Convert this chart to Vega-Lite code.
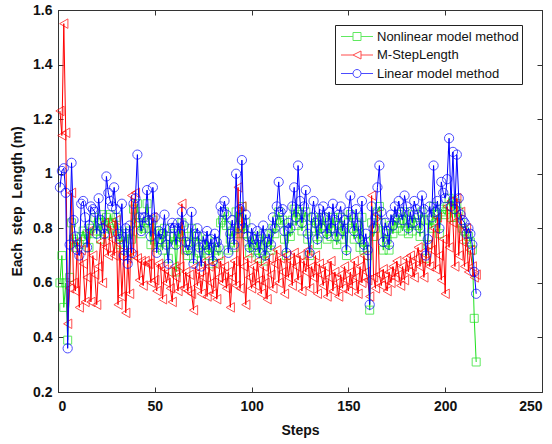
{
"$schema":"https://vega.github.io/schema/vega-lite/v6.json",
"width":484,"height":382,
"autosize":"none",
"padding":{"left":58,"top":10,"right":10,"bottom":52},
"background":"white",
"config":{
 "view":{"stroke":"#333","strokeWidth":1},
 "axis":{"grid":false,"domainColor":"#333","tickColor":"#333","tickSize":-5,"labelFont":"Liberation Sans","labelFontWeight":"bold","labelFontSize":14,"labelColor":"#111","titleFont":"Liberation Sans","titleFontWeight":"bold","titleFontSize":14,"titleColor":"#111"}
},
"data":{"values":[
{"x":1,"s":"N","y":0.60},{"x":2,"s":"N","y":0.70},{"x":3,"s":"N","y":0.51},{"x":4,"s":"N","y":0.60},{"x":5,"s":"N","y":0.39},{"x":6,"s":"N","y":0.62},{"x":7,"s":"N","y":0.82},{"x":8,"s":"N","y":0.76},{"x":9,"s":"N","y":0.73},{"x":10,"s":"N","y":0.75},
{"x":11,"s":"N","y":0.74},{"x":12,"s":"N","y":0.77},{"x":13,"s":"N","y":0.79},{"x":14,"s":"N","y":0.76},{"x":15,"s":"N","y":0.78},{"x":16,"s":"N","y":0.73},{"x":17,"s":"N","y":0.80},{"x":18,"s":"N","y":0.78},{"x":19,"s":"N","y":0.84},{"x":20,"s":"N","y":0.79},
{"x":21,"s":"N","y":0.82},{"x":22,"s":"N","y":0.76},{"x":23,"s":"N","y":0.85},{"x":24,"s":"N","y":0.80},{"x":25,"s":"N","y":0.84},{"x":26,"s":"N","y":0.78},{"x":27,"s":"N","y":0.85},{"x":28,"s":"N","y":0.82},{"x":29,"s":"N","y":0.80},{"x":30,"s":"N","y":0.84},
{"x":31,"s":"N","y":0.79},{"x":32,"s":"N","y":0.74},{"x":33,"s":"N","y":0.77},{"x":34,"s":"N","y":0.72},{"x":35,"s":"N","y":0.78},{"x":36,"s":"N","y":0.70},{"x":37,"s":"N","y":0.79},{"x":38,"s":"N","y":0.76},{"x":39,"s":"N","y":0.87},{"x":40,"s":"N","y":0.82},
{"x":41,"s":"N","y":0.89},{"x":42,"s":"N","y":0.82},{"x":43,"s":"N","y":0.78},{"x":44,"s":"N","y":0.80},{"x":45,"s":"N","y":0.82},{"x":46,"s":"N","y":0.89},{"x":47,"s":"N","y":0.80},{"x":48,"s":"N","y":0.74},{"x":49,"s":"N","y":0.83},{"x":50,"s":"N","y":0.79},
{"x":51,"s":"N","y":0.73},{"x":52,"s":"N","y":0.75},{"x":53,"s":"N","y":0.78},{"x":54,"s":"N","y":0.72},{"x":55,"s":"N","y":0.80},{"x":56,"s":"N","y":0.76},{"x":57,"s":"N","y":0.69},{"x":58,"s":"N","y":0.77},{"x":59,"s":"N","y":0.74},{"x":60,"s":"N","y":0.78},
{"x":61,"s":"N","y":0.64},{"x":62,"s":"N","y":0.79},{"x":63,"s":"N","y":0.75},{"x":64,"s":"N","y":0.82},{"x":65,"s":"N","y":0.77},{"x":66,"s":"N","y":0.72},{"x":67,"s":"N","y":0.70},{"x":68,"s":"N","y":0.75},{"x":69,"s":"N","y":0.80},{"x":70,"s":"N","y":0.69},
{"x":71,"s":"N","y":0.75},{"x":72,"s":"N","y":0.77},{"x":73,"s":"N","y":0.71},{"x":74,"s":"N","y":0.68},{"x":75,"s":"N","y":0.74},{"x":76,"s":"N","y":0.72},{"x":77,"s":"N","y":0.76},{"x":78,"s":"N","y":0.70},{"x":79,"s":"N","y":0.73},{"x":80,"s":"N","y":0.67},
{"x":81,"s":"N","y":0.75},{"x":82,"s":"N","y":0.72},{"x":83,"s":"N","y":0.70},{"x":84,"s":"N","y":0.82},{"x":85,"s":"N","y":0.83},{"x":86,"s":"N","y":0.86},{"x":87,"s":"N","y":0.81},{"x":88,"s":"N","y":0.72},{"x":89,"s":"N","y":0.76},{"x":90,"s":"N","y":0.79},
{"x":91,"s":"N","y":0.73},{"x":92,"s":"N","y":0.86},{"x":93,"s":"N","y":0.78},{"x":94,"s":"N","y":0.84},{"x":95,"s":"N","y":0.88},{"x":96,"s":"N","y":0.78},{"x":97,"s":"N","y":0.82},{"x":98,"s":"N","y":0.75},{"x":99,"s":"N","y":0.71},{"x":100,"s":"N","y":0.77},
{"x":101,"s":"N","y":0.73},{"x":102,"s":"N","y":0.72},{"x":103,"s":"N","y":0.76},{"x":104,"s":"N","y":0.69},{"x":105,"s":"N","y":0.74},{"x":106,"s":"N","y":0.78},{"x":107,"s":"N","y":0.68},{"x":108,"s":"N","y":0.73},{"x":109,"s":"N","y":0.76},{"x":110,"s":"N","y":0.72},
{"x":111,"s":"N","y":0.80},{"x":112,"s":"N","y":0.78},{"x":113,"s":"N","y":0.83},{"x":114,"s":"N","y":0.86},{"x":115,"s":"N","y":0.82},{"x":116,"s":"N","y":0.83},{"x":117,"s":"N","y":0.76},{"x":118,"s":"N","y":0.70},{"x":119,"s":"N","y":0.79},{"x":120,"s":"N","y":0.77},
{"x":121,"s":"N","y":0.83},{"x":122,"s":"N","y":0.87},{"x":123,"s":"N","y":0.81},{"x":124,"s":"N","y":0.86},{"x":125,"s":"N","y":0.85},{"x":126,"s":"N","y":0.79},{"x":127,"s":"N","y":0.84},{"x":128,"s":"N","y":0.86},{"x":129,"s":"N","y":0.76},{"x":130,"s":"N","y":0.70},
{"x":131,"s":"N","y":0.80},{"x":132,"s":"N","y":0.84},{"x":133,"s":"N","y":0.79},{"x":134,"s":"N","y":0.74},{"x":135,"s":"N","y":0.83},{"x":136,"s":"N","y":0.78},{"x":137,"s":"N","y":0.84},{"x":138,"s":"N","y":0.80},{"x":139,"s":"N","y":0.76},{"x":140,"s":"N","y":0.82},
{"x":141,"s":"N","y":0.77},{"x":142,"s":"N","y":0.84},{"x":143,"s":"N","y":0.79},{"x":144,"s":"N","y":0.74},{"x":145,"s":"N","y":0.81},{"x":146,"s":"N","y":0.84},{"x":147,"s":"N","y":0.76},{"x":148,"s":"N","y":0.80},{"x":149,"s":"N","y":0.70},{"x":150,"s":"N","y":0.82},
{"x":151,"s":"N","y":0.85},{"x":152,"s":"N","y":0.80},{"x":153,"s":"N","y":0.76},{"x":154,"s":"N","y":0.82},{"x":155,"s":"N","y":0.78},{"x":156,"s":"N","y":0.73},{"x":157,"s":"N","y":0.84},{"x":158,"s":"N","y":0.72},{"x":159,"s":"N","y":0.75},{"x":160,"s":"N","y":0.70},
{"x":161,"s":"N","y":0.50},{"x":162,"s":"N","y":0.82},{"x":163,"s":"N","y":0.77},{"x":164,"s":"N","y":0.80},{"x":165,"s":"N","y":0.86},{"x":166,"s":"N","y":0.88},{"x":167,"s":"N","y":0.82},{"x":168,"s":"N","y":0.72},{"x":169,"s":"N","y":0.78},{"x":170,"s":"N","y":0.76},
{"x":171,"s":"N","y":0.72},{"x":172,"s":"N","y":0.81},{"x":173,"s":"N","y":0.78},{"x":174,"s":"N","y":0.83},{"x":175,"s":"N","y":0.80},{"x":176,"s":"N","y":0.85},{"x":177,"s":"N","y":0.82},{"x":178,"s":"N","y":0.79},{"x":179,"s":"N","y":0.86},{"x":180,"s":"N","y":0.83},
{"x":181,"s":"N","y":0.78},{"x":182,"s":"N","y":0.82},{"x":183,"s":"N","y":0.79},{"x":184,"s":"N","y":0.85},{"x":185,"s":"N","y":0.82},{"x":186,"s":"N","y":0.81},{"x":187,"s":"N","y":0.77},{"x":188,"s":"N","y":0.86},{"x":189,"s":"N","y":0.83},{"x":190,"s":"N","y":0.69},
{"x":191,"s":"N","y":0.74},{"x":192,"s":"N","y":0.83},{"x":193,"s":"N","y":0.80},{"x":194,"s":"N","y":0.88},{"x":195,"s":"N","y":0.82},{"x":196,"s":"N","y":0.85},{"x":197,"s":"N","y":0.78},{"x":198,"s":"N","y":0.87},{"x":199,"s":"N","y":0.86},{"x":200,"s":"N","y":0.85},
{"x":201,"s":"N","y":0.88},{"x":202,"s":"N","y":0.91},{"x":203,"s":"N","y":0.84},{"x":204,"s":"N","y":0.90},{"x":205,"s":"N","y":0.84},{"x":206,"s":"N","y":0.89},{"x":207,"s":"N","y":0.86},{"x":208,"s":"N","y":0.82},{"x":209,"s":"N","y":0.80},{"x":210,"s":"N","y":0.79},
{"x":211,"s":"N","y":0.76},{"x":212,"s":"N","y":0.77},{"x":213,"s":"N","y":0.75},{"x":214,"s":"N","y":0.72},{"x":215,"s":"N","y":0.47},{"x":216,"s":"N","y":0.31},
{"x":1,"s":"M","y":1.23},{"x":2,"s":"M","y":1.14},{"x":3,"s":"M","y":1.55},{"x":4,"s":"M","y":1.15},{"x":5,"s":"M","y":0.45},{"x":6,"s":"M","y":0.58},{"x":7,"s":"M","y":0.93},{"x":8,"s":"M","y":0.60},{"x":9,"s":"M","y":0.57},{"x":10,"s":"M","y":0.75},
{"x":11,"s":"M","y":0.51},{"x":12,"s":"M","y":0.72},{"x":13,"s":"M","y":0.67},{"x":14,"s":"M","y":0.53},{"x":15,"s":"M","y":0.62},{"x":16,"s":"M","y":0.79},{"x":17,"s":"M","y":0.53},{"x":18,"s":"M","y":0.70},{"x":19,"s":"M","y":0.63},{"x":20,"s":"M","y":0.52},
{"x":21,"s":"M","y":0.66},{"x":22,"s":"M","y":0.75},{"x":23,"s":"M","y":0.60},{"x":24,"s":"M","y":0.82},{"x":25,"s":"M","y":0.73},{"x":26,"s":"M","y":0.70},{"x":27,"s":"M","y":0.81},{"x":28,"s":"M","y":0.76},{"x":29,"s":"M","y":0.70},{"x":30,"s":"M","y":0.83},
{"x":31,"s":"M","y":0.52},{"x":32,"s":"M","y":0.74},{"x":33,"s":"M","y":0.55},{"x":34,"s":"M","y":0.71},{"x":35,"s":"M","y":0.49},{"x":36,"s":"M","y":0.69},{"x":37,"s":"M","y":0.56},{"x":38,"s":"M","y":0.92},{"x":39,"s":"M","y":0.70},{"x":40,"s":"M","y":0.93},
{"x":41,"s":"M","y":0.69},{"x":42,"s":"M","y":0.61},{"x":43,"s":"M","y":0.68},{"x":44,"s":"M","y":0.59},{"x":45,"s":"M","y":0.68},{"x":46,"s":"M","y":0.67},{"x":47,"s":"M","y":0.67},{"x":48,"s":"M","y":0.60},{"x":49,"s":"M","y":0.84},{"x":50,"s":"M","y":0.61},
{"x":51,"s":"M","y":0.57},{"x":52,"s":"M","y":0.67},{"x":53,"s":"M","y":0.66},{"x":54,"s":"M","y":0.54},{"x":55,"s":"M","y":0.65},{"x":56,"s":"M","y":0.60},{"x":57,"s":"M","y":0.64},{"x":58,"s":"M","y":0.58},{"x":59,"s":"M","y":0.53},{"x":60,"s":"M","y":0.66},
{"x":61,"s":"M","y":0.62},{"x":62,"s":"M","y":0.57},{"x":63,"s":"M","y":0.66},{"x":64,"s":"M","y":0.89},{"x":65,"s":"M","y":0.58},{"x":66,"s":"M","y":0.64},{"x":67,"s":"M","y":0.57},{"x":68,"s":"M","y":0.63},{"x":69,"s":"M","y":0.56},{"x":70,"s":"M","y":0.50},
{"x":71,"s":"M","y":0.66},{"x":72,"s":"M","y":0.59},{"x":73,"s":"M","y":0.64},{"x":74,"s":"M","y":0.56},{"x":75,"s":"M","y":0.62},{"x":76,"s":"M","y":0.68},{"x":77,"s":"M","y":0.55},{"x":78,"s":"M","y":0.66},{"x":79,"s":"M","y":0.60},{"x":80,"s":"M","y":0.56},
{"x":81,"s":"M","y":0.67},{"x":82,"s":"M","y":0.54},{"x":83,"s":"M","y":0.62},{"x":84,"s":"M","y":0.68},{"x":85,"s":"M","y":0.60},{"x":86,"s":"M","y":0.66},{"x":87,"s":"M","y":0.58},{"x":88,"s":"M","y":0.64},{"x":89,"s":"M","y":0.51},{"x":90,"s":"M","y":0.62},
{"x":91,"s":"M","y":0.68},{"x":92,"s":"M","y":0.59},{"x":93,"s":"M","y":0.95},{"x":94,"s":"M","y":0.58},{"x":95,"s":"M","y":0.88},{"x":96,"s":"M","y":0.66},{"x":97,"s":"M","y":0.52},{"x":98,"s":"M","y":0.69},{"x":99,"s":"M","y":0.62},{"x":100,"s":"M","y":0.58},
{"x":101,"s":"M","y":0.66},{"x":102,"s":"M","y":0.59},{"x":103,"s":"M","y":0.68},{"x":104,"s":"M","y":0.61},{"x":105,"s":"M","y":0.56},{"x":106,"s":"M","y":0.66},{"x":107,"s":"M","y":0.60},{"x":108,"s":"M","y":0.54},{"x":109,"s":"M","y":0.69},{"x":110,"s":"M","y":0.63},
{"x":111,"s":"M","y":0.58},{"x":112,"s":"M","y":0.67},{"x":113,"s":"M","y":0.72},{"x":114,"s":"M","y":0.60},{"x":115,"s":"M","y":0.69},{"x":116,"s":"M","y":0.64},{"x":117,"s":"M","y":0.56},{"x":118,"s":"M","y":0.70},{"x":119,"s":"M","y":0.62},{"x":120,"s":"M","y":0.68},
{"x":121,"s":"M","y":0.59},{"x":122,"s":"M","y":0.71},{"x":123,"s":"M","y":0.66},{"x":124,"s":"M","y":0.61},{"x":125,"s":"M","y":0.70},{"x":126,"s":"M","y":0.57},{"x":127,"s":"M","y":0.68},{"x":128,"s":"M","y":0.64},{"x":129,"s":"M","y":0.72},{"x":130,"s":"M","y":0.58},
{"x":131,"s":"M","y":0.66},{"x":132,"s":"M","y":0.62},{"x":133,"s":"M","y":0.70},{"x":134,"s":"M","y":0.56},{"x":135,"s":"M","y":0.67},{"x":136,"s":"M","y":0.63},{"x":137,"s":"M","y":0.59},{"x":138,"s":"M","y":0.66},{"x":139,"s":"M","y":0.55},{"x":140,"s":"M","y":0.62},
{"x":141,"s":"M","y":0.68},{"x":142,"s":"M","y":0.57},{"x":143,"s":"M","y":0.64},{"x":144,"s":"M","y":0.60},{"x":145,"s":"M","y":0.55},{"x":146,"s":"M","y":0.63},{"x":147,"s":"M","y":0.58},{"x":148,"s":"M","y":0.66},{"x":149,"s":"M","y":0.61},{"x":150,"s":"M","y":0.57},
{"x":151,"s":"M","y":0.64},{"x":152,"s":"M","y":0.59},{"x":153,"s":"M","y":0.68},{"x":154,"s":"M","y":0.62},{"x":155,"s":"M","y":0.56},{"x":156,"s":"M","y":0.66},{"x":157,"s":"M","y":0.60},{"x":158,"s":"M","y":0.70},{"x":159,"s":"M","y":0.64},{"x":160,"s":"M","y":0.61},
{"x":161,"s":"M","y":0.55},{"x":162,"s":"M","y":0.92},{"x":163,"s":"M","y":0.62},{"x":164,"s":"M","y":0.58},{"x":165,"s":"M","y":0.85},{"x":166,"s":"M","y":0.63},{"x":167,"s":"M","y":0.59},{"x":168,"s":"M","y":0.65},{"x":169,"s":"M","y":0.61},{"x":170,"s":"M","y":0.57},
{"x":171,"s":"M","y":0.64},{"x":172,"s":"M","y":0.60},{"x":173,"s":"M","y":0.66},{"x":174,"s":"M","y":0.62},{"x":175,"s":"M","y":0.68},{"x":176,"s":"M","y":0.63},{"x":177,"s":"M","y":0.59},{"x":178,"s":"M","y":0.66},{"x":179,"s":"M","y":0.61},{"x":180,"s":"M","y":0.69},
{"x":181,"s":"M","y":0.64},{"x":182,"s":"M","y":0.70},{"x":183,"s":"M","y":0.66},{"x":184,"s":"M","y":0.62},{"x":185,"s":"M","y":0.69},{"x":186,"s":"M","y":0.73},{"x":187,"s":"M","y":0.66},{"x":188,"s":"M","y":0.71},{"x":189,"s":"M","y":0.62},{"x":190,"s":"M","y":0.68},
{"x":191,"s":"M","y":0.74},{"x":192,"s":"M","y":0.66},{"x":193,"s":"M","y":0.72},{"x":194,"s":"M","y":0.80},{"x":195,"s":"M","y":0.65},{"x":196,"s":"M","y":0.84},{"x":197,"s":"M","y":0.70},{"x":198,"s":"M","y":0.61},{"x":199,"s":"M","y":0.76},{"x":200,"s":"M","y":0.56},
{"x":201,"s":"M","y":0.88},{"x":202,"s":"M","y":0.73},{"x":203,"s":"M","y":0.90},{"x":204,"s":"M","y":0.82},{"x":205,"s":"M","y":0.66},{"x":206,"s":"M","y":0.91},{"x":207,"s":"M","y":0.70},{"x":208,"s":"M","y":0.86},{"x":209,"s":"M","y":0.75},{"x":210,"s":"M","y":0.66},
{"x":211,"s":"M","y":0.80},{"x":212,"s":"M","y":0.64},{"x":213,"s":"M","y":0.72},{"x":214,"s":"M","y":0.66},{"x":215,"s":"M","y":0.62},{"x":216,"s":"M","y":0.63},
{"x":1,"s":"L","y":0.95},{"x":2,"s":"L","y":1.01},{"x":3,"s":"L","y":1.02},{"x":4,"s":"L","y":0.93},{"x":5,"s":"L","y":0.36},{"x":6,"s":"L","y":0.74},{"x":7,"s":"L","y":1.04},{"x":8,"s":"L","y":0.83},{"x":9,"s":"L","y":0.77},{"x":10,"s":"L","y":0.72},
{"x":11,"s":"L","y":0.70},{"x":12,"s":"L","y":0.89},{"x":13,"s":"L","y":0.90},{"x":14,"s":"L","y":0.84},{"x":15,"s":"L","y":0.73},{"x":16,"s":"L","y":0.81},{"x":17,"s":"L","y":0.88},{"x":18,"s":"L","y":0.87},{"x":19,"s":"L","y":0.86},{"x":20,"s":"L","y":0.78},
{"x":21,"s":"L","y":0.91},{"x":22,"s":"L","y":0.83},{"x":23,"s":"L","y":0.80},{"x":24,"s":"L","y":0.78},{"x":25,"s":"L","y":0.99},{"x":26,"s":"L","y":0.93},{"x":27,"s":"L","y":0.90},{"x":28,"s":"L","y":0.88},{"x":29,"s":"L","y":0.95},{"x":30,"s":"L","y":0.87},
{"x":31,"s":"L","y":0.78},{"x":32,"s":"L","y":0.76},{"x":33,"s":"L","y":0.89},{"x":34,"s":"L","y":0.70},{"x":35,"s":"L","y":0.80},{"x":36,"s":"L","y":0.67},{"x":37,"s":"L","y":0.81},{"x":38,"s":"L","y":0.71},{"x":39,"s":"L","y":0.89},{"x":40,"s":"L","y":0.91},
{"x":41,"s":"L","y":1.07},{"x":42,"s":"L","y":0.84},{"x":43,"s":"L","y":0.79},{"x":44,"s":"L","y":0.84},{"x":45,"s":"L","y":0.84},{"x":46,"s":"L","y":0.94},{"x":47,"s":"L","y":0.83},{"x":48,"s":"L","y":0.77},{"x":49,"s":"L","y":0.95},{"x":50,"s":"L","y":0.84},
{"x":51,"s":"L","y":0.71},{"x":52,"s":"L","y":0.79},{"x":53,"s":"L","y":0.76},{"x":54,"s":"L","y":0.78},{"x":55,"s":"L","y":0.85},{"x":56,"s":"L","y":0.74},{"x":57,"s":"L","y":0.67},{"x":58,"s":"L","y":0.80},{"x":59,"s":"L","y":0.82},{"x":60,"s":"L","y":0.80},
{"x":61,"s":"L","y":0.74},{"x":62,"s":"L","y":0.82},{"x":63,"s":"L","y":0.78},{"x":64,"s":"L","y":0.86},{"x":65,"s":"L","y":0.81},{"x":66,"s":"L","y":0.75},{"x":67,"s":"L","y":0.72},{"x":68,"s":"L","y":0.74},{"x":69,"s":"L","y":0.86},{"x":70,"s":"L","y":0.67},
{"x":71,"s":"L","y":0.78},{"x":72,"s":"L","y":0.80},{"x":73,"s":"L","y":0.73},{"x":74,"s":"L","y":0.66},{"x":75,"s":"L","y":0.77},{"x":76,"s":"L","y":0.74},{"x":77,"s":"L","y":0.79},{"x":78,"s":"L","y":0.72},{"x":79,"s":"L","y":0.76},{"x":80,"s":"L","y":0.68},
{"x":81,"s":"L","y":0.78},{"x":82,"s":"L","y":0.75},{"x":83,"s":"L","y":0.73},{"x":84,"s":"L","y":0.88},{"x":85,"s":"L","y":0.86},{"x":86,"s":"L","y":0.90},{"x":87,"s":"L","y":0.85},{"x":88,"s":"L","y":0.71},{"x":89,"s":"L","y":0.78},{"x":90,"s":"L","y":0.83},
{"x":91,"s":"L","y":0.74},{"x":92,"s":"L","y":1.00},{"x":93,"s":"L","y":0.80},{"x":94,"s":"L","y":0.87},{"x":95,"s":"L","y":1.05},{"x":96,"s":"L","y":0.80},{"x":97,"s":"L","y":0.85},{"x":98,"s":"L","y":0.77},{"x":99,"s":"L","y":0.73},{"x":100,"s":"L","y":0.80},
{"x":101,"s":"L","y":0.76},{"x":102,"s":"L","y":0.74},{"x":103,"s":"L","y":0.79},{"x":104,"s":"L","y":0.71},{"x":105,"s":"L","y":0.77},{"x":106,"s":"L","y":0.81},{"x":107,"s":"L","y":0.70},{"x":108,"s":"L","y":0.75},{"x":109,"s":"L","y":0.78},{"x":110,"s":"L","y":0.74},
{"x":111,"s":"L","y":0.84},{"x":112,"s":"L","y":0.80},{"x":113,"s":"L","y":0.88},{"x":114,"s":"L","y":0.97},{"x":115,"s":"L","y":0.86},{"x":116,"s":"L","y":0.87},{"x":117,"s":"L","y":0.79},{"x":118,"s":"L","y":0.71},{"x":119,"s":"L","y":0.82},{"x":120,"s":"L","y":0.80},
{"x":121,"s":"L","y":0.88},{"x":122,"s":"L","y":0.95},{"x":123,"s":"L","y":0.84},{"x":124,"s":"L","y":1.03},{"x":125,"s":"L","y":0.90},{"x":126,"s":"L","y":0.82},{"x":127,"s":"L","y":0.88},{"x":128,"s":"L","y":0.94},{"x":129,"s":"L","y":0.78},{"x":130,"s":"L","y":0.71},
{"x":131,"s":"L","y":0.84},{"x":132,"s":"L","y":0.90},{"x":133,"s":"L","y":0.82},{"x":134,"s":"L","y":0.76},{"x":135,"s":"L","y":0.87},{"x":136,"s":"L","y":0.80},{"x":137,"s":"L","y":0.88},{"x":138,"s":"L","y":0.84},{"x":139,"s":"L","y":0.78},{"x":140,"s":"L","y":0.86},
{"x":141,"s":"L","y":0.80},{"x":142,"s":"L","y":0.89},{"x":143,"s":"L","y":0.83},{"x":144,"s":"L","y":0.77},{"x":145,"s":"L","y":0.85},{"x":146,"s":"L","y":0.88},{"x":147,"s":"L","y":0.79},{"x":148,"s":"L","y":0.83},{"x":149,"s":"L","y":0.72},{"x":150,"s":"L","y":0.86},
{"x":151,"s":"L","y":0.92},{"x":152,"s":"L","y":0.84},{"x":153,"s":"L","y":0.79},{"x":154,"s":"L","y":0.87},{"x":155,"s":"L","y":0.81},{"x":156,"s":"L","y":0.76},{"x":157,"s":"L","y":0.90},{"x":158,"s":"L","y":0.74},{"x":159,"s":"L","y":0.78},{"x":160,"s":"L","y":0.72},
{"x":161,"s":"L","y":0.52},{"x":162,"s":"L","y":0.88},{"x":163,"s":"L","y":0.80},{"x":164,"s":"L","y":0.84},{"x":165,"s":"L","y":0.95},{"x":166,"s":"L","y":1.03},{"x":167,"s":"L","y":0.86},{"x":168,"s":"L","y":0.75},{"x":169,"s":"L","y":0.82},{"x":170,"s":"L","y":0.79},
{"x":171,"s":"L","y":0.74},{"x":172,"s":"L","y":0.85},{"x":173,"s":"L","y":0.81},{"x":174,"s":"L","y":0.88},{"x":175,"s":"L","y":0.84},{"x":176,"s":"L","y":0.90},{"x":177,"s":"L","y":0.86},{"x":178,"s":"L","y":0.83},{"x":179,"s":"L","y":0.92},{"x":180,"s":"L","y":0.88},
{"x":181,"s":"L","y":0.80},{"x":182,"s":"L","y":0.86},{"x":183,"s":"L","y":0.82},{"x":184,"s":"L","y":0.90},{"x":185,"s":"L","y":0.87},{"x":186,"s":"L","y":0.85},{"x":187,"s":"L","y":0.80},{"x":188,"s":"L","y":0.92},{"x":189,"s":"L","y":0.87},{"x":190,"s":"L","y":0.70},
{"x":191,"s":"L","y":0.76},{"x":192,"s":"L","y":0.88},{"x":193,"s":"L","y":0.84},{"x":194,"s":"L","y":1.03},{"x":195,"s":"L","y":0.86},{"x":196,"s":"L","y":0.90},{"x":197,"s":"L","y":0.80},{"x":198,"s":"L","y":0.97},{"x":199,"s":"L","y":0.93},{"x":200,"s":"L","y":0.91},
{"x":201,"s":"L","y":0.98},{"x":202,"s":"L","y":1.13},{"x":203,"s":"L","y":0.88},{"x":204,"s":"L","y":1.08},{"x":205,"s":"L","y":0.87},{"x":206,"s":"L","y":1.07},{"x":207,"s":"L","y":0.91},{"x":208,"s":"L","y":0.85},{"x":209,"s":"L","y":0.83},{"x":210,"s":"L","y":0.82},
{"x":211,"s":"L","y":0.78},{"x":212,"s":"L","y":0.80},{"x":213,"s":"L","y":0.78},{"x":214,"s":"L","y":0.74},{"x":215,"s":"L","y":0.64},{"x":216,"s":"L","y":0.56}
]},
"layer":[
 {
  "encoding":{
   "x":{"field":"x","type":"quantitative","scale":{"domain":[0,250],"nice":false},"axis":{"values":[0,50,100,150,200,250],"format":"d","title":"Steps","labelPadding":12,"titlePadding":10}},
   "y":{"field":"y","type":"quantitative","scale":{"domain":[0.2,1.6],"nice":false,"zero":false},"axis":{"values":[0.2,0.4,0.6,0.8,1,1.2,1.4,1.6],"format":".1~f","title":"Each\u00a0 step\u00a0 Length (m)","labelPadding":11,"titlePadding":8}}
  },
  "layer":[
   {"transform":[{"filter":"datum.x > 1000"}],
    "mark":{"type":"point","filled":false,"strokeWidth":1},
    "encoding":{
     "color":{"field":"s","type":"nominal","scale":{"domain":["N","M","L"],"range":["#1ee01e","#ff0000","#0000ff"]},
      "legend":{"orient":"none","legendX":277,"legendY":15,"title":null,"strokeColor":"#222","fillColor":"white","padding":3,"rowPadding":2.5,"symbolSize":256,"symbolOffset":10.5,"labelOffset":11.5,"symbolStrokeWidth":1,"labelFont":"Liberation Sans","labelFontSize":13,"labelColor":"#111",
       "labelExpr":"datum.label == 'N' ? 'Nonlinear model method' : datum.label == 'M' ? 'M-StepLength' : 'Linear model method'"}},
     "shape":{"field":"s","type":"nominal","scale":{"domain":["N","M","L"],"range":["M-2,0H-0.5M0.5,0H2M-0.5,-0.5H0.5V0.5H-0.5Z","M-2,0H-0.5M0.5,0H2M-0.5,0L0.5,-0.5L0.5,0.5Z","M-2,0H-0.5M0.5,0H2M-0.5,0A0.5,0.5,0,1,0,0.5,0A0.5,0.5,0,1,0,-0.5,0"]}}
    }},
   {"transform":[{"filter":"datum.s == 'N'"}],"layer":[
     {"mark":{"type":"line","strokeWidth":1,"color":"#1ee01e"}},
     {"mark":{"type":"point","filled":false,"shape":"square","color":"#1ee01e","strokeWidth":1,"size":64}}]},
   {"transform":[{"filter":"datum.s == 'M'"}],"layer":[
     {"mark":{"type":"line","strokeWidth":1,"color":"#ff0000"}},
     {"mark":{"type":"point","filled":false,"shape":"triangle-left","color":"#ff0000","strokeWidth":1,"size":90}}]},
   {"transform":[{"filter":"datum.s == 'L'"}],"layer":[
     {"mark":{"type":"line","strokeWidth":1,"color":"#0000ff"}},
     {"mark":{"type":"point","filled":false,"shape":"circle","color":"#0000ff","strokeWidth":1,"size":85}}]}
  ]
 },
 {
  "mark":{"type":"point","opacity":0},
  "encoding":{
   "x":{"field":"x","type":"quantitative","scale":{"domain":[0,250],"nice":false},"axis":{"orient":"top","values":[0,50,100,150,200,250],"labels":false,"title":null}},
   "y":{"field":"y","type":"quantitative","scale":{"domain":[0.2,1.6],"nice":false,"zero":false},"axis":{"orient":"right","values":[0.2,0.4,0.6,0.8,1,1.2,1.4,1.6],"labels":false,"title":null}}
  }
 }
],
"resolve":{"axis":{"x":"independent","y":"independent"}}
}
